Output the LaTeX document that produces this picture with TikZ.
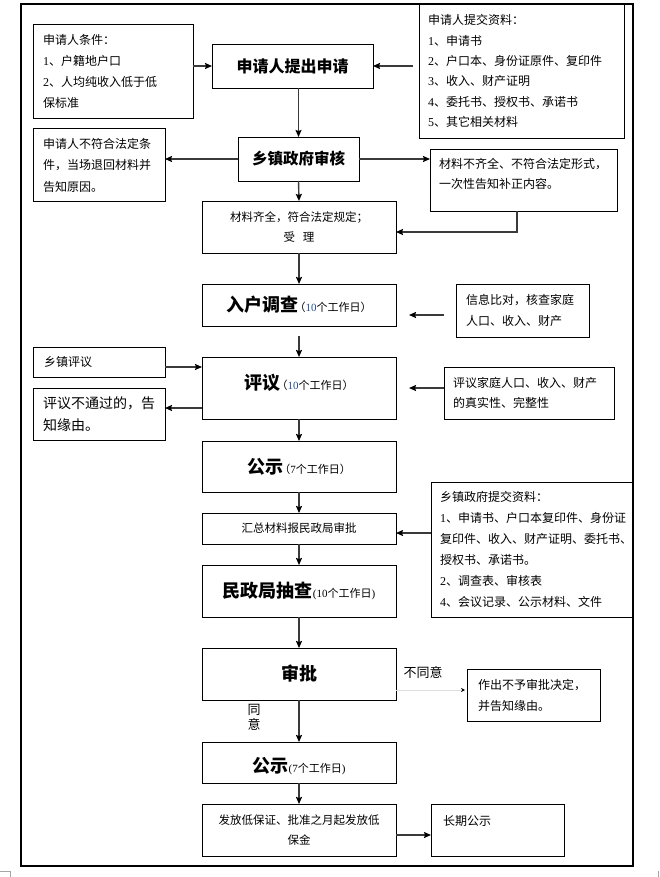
\documentclass[tikz,border=0pt]{standalone}
\usepackage{fontspec}
\setmainfont{Noto Sans CJK SC}
\newfontfamily\latfont{Liberation Serif}
\usetikzlibrary{arrows.meta,calc}
\definecolor{nb}{HTML}{1F4A9A}
\definecolor{arrgray}{HTML}{3A3A3A}
\newcommand\fs[2]{\fontsize{#1}{#2}\selectfont}
\newcommand\dg[1]{{\latfont #1}}
\newcommand\mkbox[6][]{\node[box,#1,minimum width={(#4-#2)*1pt},minimum height={(#5-#3)*1pt}] (#6) at ({(#2+#4)/2},{-(#3+#5)/2})}
\tikzset{
  box/.style={draw=black,line width=0.9pt,inner sep=0pt,outer sep=0pt,align=center},
  txt/.style={inner sep=0pt,outer sep=0pt,align=left,anchor=west},
  arr/.style={draw=arrgray,line width=1.4pt,-{Stealth[length=7pt,width=6pt,inset=1pt,color=black]}},
  faint/.style={draw=black!12,line width=0.8pt,-{Stealth[length=4pt,width=4pt,color=black]}},
  small/.style={font=\fs{12}{21}}
}
\begin{document}
\begin{tikzpicture}[x=1pt,y=1pt]
\useasboundingbox (0,0) rectangle (660,-877);
% boxes
\mkbox{33}{24}{193}{118}{n1} {};
\mkbox{212}{44}{373}{88}{n2} {\fs{16}{18}\bfseries 申请人提出申请};
\mkbox{419}{4}{624}{138}{n3} {};
\mkbox{33}{128}{165}{201}{n4} {};
\mkbox{238}{137}{359}{181}{n5} {\fs{15.5}{18}\bfseries 乡镇政府审核};
\mkbox{430}{149}{617}{211}{n6} {};
\mkbox[font=\fs{11.5}{20}]{202}{201}{396}{253}{n7} {材料齐全，符合法定规定；\\受\hspace{8pt}理};
\mkbox{202}{284}{396}{326}{n8} {\fs{18}{20}\bfseries 入户调查{\fs{11}{13}\mdseries\hspace{-4pt}（\dg{\textcolor{nb}{10}}个工作日）}};
\mkbox{456}{284}{589}{337}{n9} {};
\mkbox{33}{347}{165}{377}{n11} {};
\mkbox{202}{357}{396}{419}{n12} {};
\mkbox{444}{367}{614}{419}{n13} {};
\mkbox{33}{388}{165}{440}{n14} {};
\mkbox{202}{441}{396}{492}{n15} {\fs{18}{20}\bfseries 公示{\fs{11}{13}\mdseries\hspace{-4pt}（\dg{7}个工作日）}};
\mkbox{202}{513}{396}{544}{n16} {\fs{11.5}{14}汇总材料报民政局审批};
\mkbox{431}{482}{633}{617}{n17} {};
\mkbox{202}{565}{396}{617}{n18} {\fs{18}{20}\bfseries 民政局抽查{\fs{11}{13}\mdseries \dg{(10}个工作日\dg{)}}};
\mkbox{202}{648}{396}{700}{n19} {\fs{18}{20}\bfseries 审批};
\mkbox{467}{669}{600}{721}{n21} {};
\mkbox{202}{742}{396}{783}{n23} {};
\mkbox[font=\fs{11.5}{20}]{202}{804}{396}{856}{n24} {发放低保证、批准之月起发放低\\保金};
\mkbox{431}{804}{564}{856}{n25} {};
% texts
\node[txt,small] (t1) at (43,-71) {申请人条件：\\\dg{1}、户籍地户口\\\dg{2}、人均纯收入低于低\\保标准};
\node[txt,font=\fs{12}{20.4}] (t3) at (428,-71) {申请人提交资料：\\\dg{1}、申请书\\\dg{2}、户口本、身份证原件、复印件\\\dg{3}、收入、财产证明\\\dg{4}、委托书、授权书、承诺书\\\dg{5}、其它相关材料};
\node[txt,font=\fs{12}{21.5}] (t4) at (43,-165) {申请人不符合法定条\\件，当场退回材料并\\告知原因。};
\node[txt,font=\fs{12}{20}] (t6) at (439,-174) {材料不齐全、不符合法定形式，\\一次性告知补正内容。};
\node[txt,small] (t9) at (466,-310.5) {信息比对，核查家庭\\人口、收入、财产};
\node[txt,small] (t11) at (44,-362) {乡镇评议};
\node[anchor=center,inner sep=0pt] (t12) at (299,-383) {\fs{18}{20}\bfseries 评议{\fs{11}{13}\mdseries\hspace{-4pt}（\dg{\textcolor{nb}{10}}个工作日）}};
\node[txt,font=\fs{12}{20}] (t13) at (453,-393) {评议家庭人口、收入、财产\\的真实性、完整性};
\node[txt,font=\fs{14}{22}] (t14) at (43,-414) {评议不通过的，告\\知缘由。};
\node[txt,small] (t17) at (440,-549.5) {乡镇政府提交资料：\\\dg{1}、申请书、户口本复印件、身份证\\复印件、收入、财产证明、委托书、\\授权书、承诺书。\\\dg{2}、调查表、审核表\\\dg{4}、会议记录、公示材料、文件};
\node[inner sep=0pt,font=\fs{13}{15}] (tno) at (423,-673) {不同意};
\node[txt,small] (t21) at (478,-695.5) {作出不予审批决定，\\并告知缘由。};
\node[inner sep=0pt,align=center,font=\fs{13}{15}] (tyes) at (254,-717) {同\\意};
\node[anchor=center,inner sep=0pt] (t23) at (299,-766) {\fs{18}{20}\bfseries 公示{\fs{11}{13}\mdseries \dg{(7}个工作日\dg{)}}};
\node[txt,small] (t25) at (443,-821) {长期公示};
% connectors
\draw[arr] (n1.east |- n2.west) -- (n2.west);
\draw[arr] ([xshift=-6pt]n3.west |- n2.east) -- (n2.east);
\draw[arr] (n5.north |- n2.south) -- (n5.north);
\draw[arr] (n5.west) -- (n5.west -| n4.east);
\draw[arr] (n5.east) -- (n5.east -| n6.west);
\draw[arr] (n5.south) -- (n7.north);
\draw[arr] ([xshift=-6.5pt]n6.south) |- ([yshift=-5pt]n7.east);
\draw[arr] (n7.south) -- (n8.north);
\coordinate (c9) at ([xshift=-12pt,yshift=-4.5pt]n9.west);
\draw[arr,shorten >=13pt] (c9) -- (c9 -| n8.east);
\draw[arr,shorten <=10pt] (n8.south) -- (n12.north);
\coordinate (c11) at ([yshift=-5pt]n11.east);
\draw[arr] (c11) -- (c11 -| n12.west);
\coordinate (c13) at ([yshift=5pt]n13.west);
\draw[arr,shorten >=13pt] (c13) -- (c13 -| n12.east);
\coordinate (c12) at ([yshift=-20pt]n12.west);
\draw[arr] (c12) -- (c12 -| n14.east);
\draw[arr] (n12.south) -- (n15.north);
\draw[arr] (n15.south) -- (n16.north);
\coordinate (c17) at ([yshift=16.5pt]n17.west);
\draw[arr] (c17) -- (c17 -| n16.east);
\draw[arr] (n16.south) -- (n18.north);
\draw[arr] (n18.south) -- (n19.north);
\coordinate (c19) at ([yshift=-16pt]n19.east);
\draw[faint,shorten >=2pt] (c19) -- (c19 -| n21.west);
\draw[arr] (n19.south) -- (n23.north);
\draw[arr] (n23.south) -- (n24.north);
\coordinate (c24) at ([yshift=-5pt]n24.east);
\draw[arr] (c24) -- (c24 -| n25.west);
% frame
\draw[line width=2pt] (21,-4) rectangle (633,-866);
\draw[black!35,line width=0.6pt] (0,-871) -- (10.5,-871) -- (10.5,-877);
\draw[black!35,line width=0.6pt] (658.5,-871) -- (658.5,-877);
\end{tikzpicture}
\end{document}
